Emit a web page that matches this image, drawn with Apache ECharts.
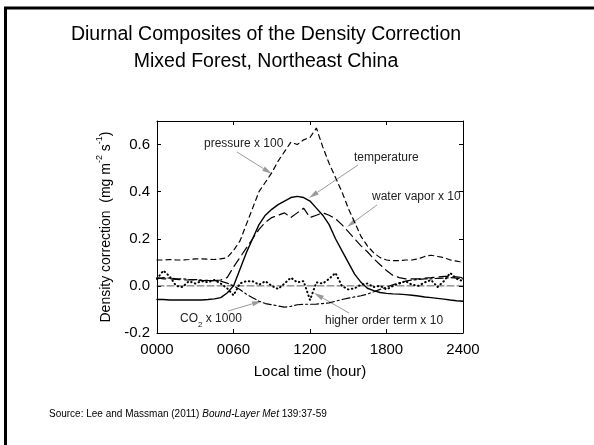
<!DOCTYPE html>
<html>
<head>
<meta charset="utf-8">
<script src="https://cdn.jsdelivr.net/npm/echarts@6/dist/echarts.min.js"></script>
<style>
  html, body { margin: 0; padding: 0; background: #fff; }
  #chart { width: 594px; height: 445px; }
</style>
</head>
<body>
<div id="chart"></div>
<script>
// local time, half-hourly
const hours = [0, 0.5, 1, 1.5, 2, 2.5, 3, 3.5, 4, 4.5, 5, 5.5, 6, 6.5, 7, 7.5, 8, 8.5, 9, 9.5,
  10, 10.5, 11, 11.5, 12, 12.5, 13, 13.5, 14, 14.5, 15, 15.5, 16, 16.5, 17, 17.5, 18, 18.5, 19, 19.5,
  20, 20.5, 21, 21.5, 22, 22.5, 23, 23.5, 24];
const xTickLabels = ['0000', '0060', '1200', '1800', '2400'];

// density correction terms (mg m-2 s-1)
const pressure = [0.11, 0.11, 0.112, 0.11, 0.11, 0.112, 0.115, 0.115, 0.113, 0.112, 0.115, 0.12, 0.15, 0.19, 0.26, 0.33, 0.40, 0.44, 0.48, 0.53,
  0.57, 0.61, 0.60, 0.62, 0.63, 0.67, 0.59, 0.52, 0.46, 0.40, 0.33, 0.27, 0.21, 0.17, 0.14, 0.12, 0.11, 0.107, 0.107, 0.11,
  0.11, 0.115, 0.125, 0.13, 0.125, 0.12, 0.11, 0.105, 0.1];
const temperature = [-0.058, -0.058, -0.06, -0.06, -0.06, -0.06, -0.06, -0.06, -0.058, -0.055, -0.05, -0.03, 0.0, 0.07, 0.14, 0.2, 0.26, 0.3, 0.325, 0.345,
  0.36, 0.375, 0.38, 0.375, 0.36, 0.33, 0.3, 0.26, 0.2, 0.15, 0.1, 0.05, 0.015, -0.01, -0.02, -0.028, -0.032, -0.034, -0.035, -0.037,
  -0.04, -0.043, -0.047, -0.05, -0.053, -0.056, -0.06, -0.063, -0.065];
const waterVapor = [0.035, 0.03, 0.03, 0.028, 0.025, 0.025, 0.025, 0.022, 0.022, 0.022, 0.025, 0.035, 0.08, 0.12, 0.16, 0.2, 0.24, 0.27, 0.29, 0.3,
  0.31, 0.29, 0.31, 0.33, 0.29, 0.3, 0.31, 0.3, 0.285, 0.26, 0.23, 0.2, 0.17, 0.145, 0.115, 0.09, 0.065, 0.045, 0.035, 0.03,
  0.03, 0.03, 0.033, 0.035, 0.038, 0.04, 0.04, 0.038, 0.035];
const co2 = [0.03, 0.035, 0.033, 0.03, 0.03, 0.028, 0.027, 0.025, 0.023, 0.022, 0.02, 0.012, 0.0, -0.015, -0.035, -0.05, -0.065, -0.075, -0.08, -0.085,
  -0.09, -0.087, -0.08, -0.078, -0.078, -0.077, -0.075, -0.072, -0.065, -0.058, -0.052, -0.047, -0.042, -0.035, -0.025, -0.015, -0.005, 0.005, 0.013, 0.02,
  0.025, 0.027, 0.03, 0.03, 0.032, 0.033, 0.035, 0.033, 0.03];
const higherOrder = [0.03, 0.065, 0.04, 0.0, -0.005, 0.02, 0.01, 0.02, 0.015, 0.025, 0.01, -0.01, -0.04, 0.01, 0.02, 0.02, 0.005, 0.02, 0.0, -0.013,
  0.01, 0.035, 0.015, 0.02, -0.06, 0.015, 0.01, 0.03, 0.055, 0.0, -0.015, -0.01, 0.005, 0.01, -0.005, 0.0, -0.015, 0.0, 0.01, 0.02,
  0.005, 0.0, 0.015, 0.025, -0.005, 0.02, 0.055, 0.03, 0.02];
const zeroLine = [[0, 0], [24, 0]];

const FONT = 'Liberation Sans';

function pairs(vals) {
  return hours.map((h, i) => [h, vals[i]]);
}

function lineSeries(name, data, type, width, color) {
  return {
    name: name,
    type: 'line',
    data: data,
    symbol: 'none',
    silent: true,
    lineStyle: { color: color || '#000', width: width, type: type, cap: 'round' }
  };
}

// annotation arrow: tail -> head, pixel space
function arrow(x1, y1, x2, y2) {
  const a = Math.atan2(y2 - y1, x2 - x1);
  const len = 10, half = 2.5;
  const bx = x2 - len * Math.cos(a), by = y2 - len * Math.sin(a);
  return [
    { type: 'line', shape: { x1: x1, y1: y1, x2: bx, y2: by }, style: { stroke: '#9a9a9a', lineWidth: 1 } },
    { type: 'polygon', shape: { points: [[x2, y2],
        [bx + half * Math.sin(a), by - half * Math.cos(a)],
        [bx - half * Math.sin(a), by + half * Math.cos(a)]] },
      style: { fill: '#9a9a9a' } }
  ];
}

function label(x, y, text, rich) {
  return {
    type: 'text', x: x, y: y,
    style: { text: text, fontSize: 12, fontFamily: FONT, fill: '#222', verticalAlign: 'middle', rich: rich }
  };
}

function frameAxis(extra) {
  return Object.assign({
    type: 'value',
    axisLine: { show: true, onZero: false, lineStyle: { color: '#000', width: 1 } },
    axisTick: { show: true, inside: true, length: 4, lineStyle: { color: '#000' } },
    splitLine: { show: false }
  }, extra);
}

const chart = echarts.init(document.getElementById('chart'));

const option = {
  backgroundColor: '#fff',
  animation: false,
  title: {
    text: 'Diurnal Composites of the Density Correction\nMixed Forest, Northeast China',
    left: 261,
    top: 16,
    textAlign: 'center',
    textStyle: { fontSize: 19.5, fontWeight: 'normal', fontFamily: FONT, color: '#000', lineHeight: 27, align: 'center' }
  },
  grid: { left: 157, right: 131, top: 121, bottom: 112 },
  xAxis: [
    frameAxis({
      min: 0, max: 24, interval: 6,
      axisLabel: {
        margin: 9, fontSize: 15, fontFamily: FONT, color: '#000',
        formatter: (v) => xTickLabels[Math.round(v / 6)]
      },
      name: 'Local time (hour)',
      nameLocation: 'middle',
      nameGap: 31,
      nameTextStyle: { fontSize: 15, fontFamily: FONT, color: '#000' }
    }),
    frameAxis({ position: 'top', min: 0, max: 24, interval: 6, axisLabel: { show: false } })
  ],
  yAxis: [
    frameAxis({
      min: -0.2, max: 0.7, interval: 0.2,
      axisLabel: {
        margin: 7, fontSize: 15, fontFamily: FONT, color: '#000', showMaxLabel: false,
        formatter: (v) => v.toFixed(1)
      },
      name: '{a|Density correction  (mg m}{s|-2}{a| s}{s|-1}{a|)}',
      nameLocation: 'middle',
      nameGap: 38,
      nameTextStyle: {
        fontSize: 14, fontFamily: FONT, color: '#000',
        rich: {
          a: { fontSize: 14, fontFamily: FONT, color: '#000', lineHeight: 18, verticalAlign: 'bottom' },
          s: { fontSize: 9, fontFamily: FONT, color: '#000', lineHeight: 18, verticalAlign: 'top' }
        }
      }
    }),
    frameAxis({ position: 'right', min: -0.2, max: 0.7, interval: 0.2, axisLabel: { show: false } })
  ],
  series: [
    lineSeries('zero', zeroLine, [7, 3], 0.8, '#333'),
    lineSeries('pressure x 100', pairs(pressure), [5, 4], 1.2),
    lineSeries('water vapor x 10', pairs(waterVapor), [9, 5], 1.2),
    lineSeries('temperature', pairs(temperature), 'solid', 1.4),
    lineSeries('CO2 x 1000', pairs(co2), [8, 3, 2, 3], 1.2),
    lineSeries('higher order term x 10', pairs(higherOrder), [0.5, 3.5], 2)
  ],
  graphic: [
    { type: 'rect', shape: { x: 5.5, y: 8, width: 700, height: 600 },
      style: { fill: 'none', stroke: '#000', lineWidth: 3 }, silent: true },
    label(204, 144, 'pressure x 100'),
    label(354, 158, 'temperature'),
    label(372, 197, 'water vapor x 10'),
    label(180, 321, '{t|CO}{b|2}{t| x 1000}', {
      t: { fontSize: 12, fontFamily: FONT, fill: '#222', lineHeight: 16, verticalAlign: 'top' },
      b: { fontSize: 8, fontFamily: FONT, fill: '#222', lineHeight: 16, verticalAlign: 'bottom' }
    }),
    label(325, 321, 'higher order term x 10'),
    {
      type: 'text', x: 49, y: 414,
      style: {
        text: 'Source: Lee and Massman (2011) {i|Bound-Layer Met} 139:37-59',
        fontSize: 10, fontFamily: FONT, fill: '#000', verticalAlign: 'middle',
        rich: { i: { fontSize: 10, fontFamily: FONT, fontStyle: 'italic', fill: '#000' } }
      }
    }
  ]
    .concat(arrow(237, 152, 272, 174))
    .concat(arrow(358, 165, 309, 198))
    .concat(arrow(377, 205, 347, 227))
    .concat(arrow(228, 311, 262, 301))
    .concat(arrow(349, 313, 314, 293))
};

chart.setOption(option);
</script>
</body>
</html>
